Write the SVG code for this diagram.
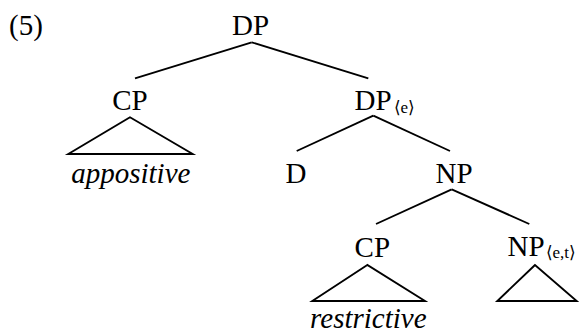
<svg xmlns="http://www.w3.org/2000/svg" width="583" height="333" viewBox="0 0 583 333" font-family="Liberation Serif, serif" font-size="29">
<style>
text{fill:#000}
.m{text-anchor:middle}
.i{font-style:italic}
.s{font-size:17px}
line,polygon{stroke:#000;stroke-width:1.9;fill:none}
</style>
<rect width="583" height="333" fill="#fff"/>
<text x="9" y="35">(5)</text>
<g id="connectors">
<line x1="251.7" y1="42.3" x2="135" y2="78.3"/>
<line x1="251.7" y1="42.3" x2="368.3" y2="78.3"/>
<line x1="373.3" y1="115.7" x2="296.7" y2="151"/>
<line x1="373.3" y1="115.7" x2="450" y2="151"/>
<line x1="451.7" y1="189.3" x2="376" y2="224"/>
<line x1="451.7" y1="189.3" x2="529.3" y2="224"/>
</g>
<g id="dp-root"><text class="m" x="250.5" y="35">DP</text></g>
<g id="cp-app">
<text class="m" x="130" y="110">CP</text>
<polygon points="130,117.3 68.3,154 192.7,154"/>
<text class="m i" x="130.8" y="183">appositive</text>
</g>
<g id="dp-e"><text x="354.5" y="110">DP<tspan class="s" dx="2" dy="3">⟨e⟩</tspan></text></g>
<g id="d"><text class="m" x="296" y="183">D</text></g>
<g id="np"><text class="m" x="454" y="183">NP</text></g>
<g id="cp-res">
<text class="m" x="372.3" y="256.7">CP</text>
<polygon points="367.3,265 312.3,301 425,301"/>
<text class="m i" x="368.3" y="328">restrictive</text>
</g>
<g id="np-et">
<text x="507.5" y="256">NP<tspan class="s" dx="1" dy="2">⟨e,t⟩</tspan></text>
<polygon points="535,265 497.3,301 576.7,301"/>
</g>
</svg>
